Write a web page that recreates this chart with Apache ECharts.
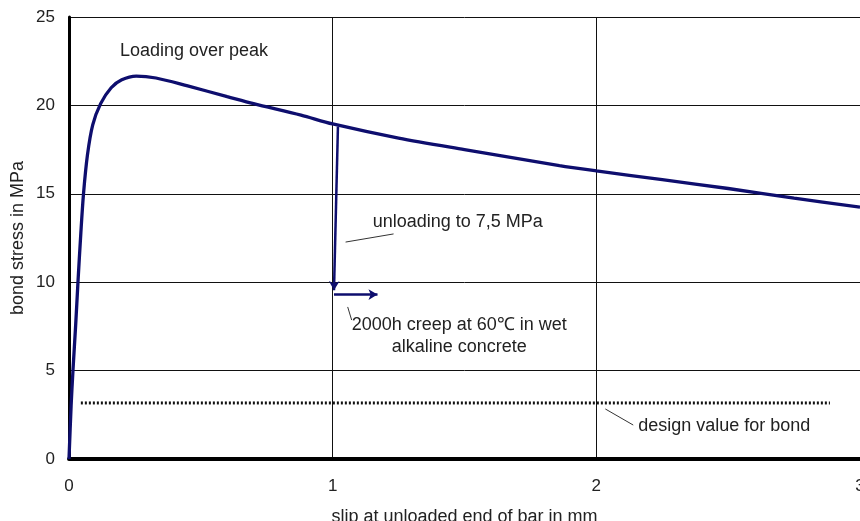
<!DOCTYPE html>
<html>
<head>
<meta charset="utf-8">
<script src="https://cdn.jsdelivr.net/npm/echarts@6/dist/echarts.min.js"></script>
<style>html,body{margin:0;padding:0;background:#fff}#c{width:860px;height:521px}</style>
</head>
<body>
<div id="c"></div>
<script>
// Loading curve (slip in mm, bond stress in MPa)
const slipLoad   = [0, 0.008, 0.015, 0.025, 0.034, 0.045, 0.055, 0.07, 0.09, 0.12, 0.16, 0.2, 0.255, 0.33, 0.45, 0.6, 0.7, 0.88, 1.0, 1.25, 1.5, 1.86, 2.0, 2.25, 2.5, 2.75, 3.0];
const stressLoad = [0, 3, 5, 7.5, 10, 12.8, 15, 17.2, 18.9, 20.1, 21.0, 21.45, 21.66, 21.55, 21.1, 20.5, 20.1, 19.45, 18.95, 18.15, 17.5, 16.6, 16.3, 15.8, 15.3, 14.75, 14.25];
// Unloading branch
const slipUnload   = [1.02, 1.005];
const stressUnload = [18.8, 9.55];
// Creep arrow
const slipCreep   = [1.005, 1.17];
const stressCreep = [9.3, 9.3];
// Design value for bond
const slipDesign   = [0.045, 2.886];
const stressDesign = [3.17, 3.17];
// Axis ticks
const xTicks = [0, 1, 2, 3];
const yTicks = [0, 5, 10, 15, 20, 25];
// Annotations: text, x, y (data coordinates)
const annoText = ['Loading over peak', 'unloading to 7,5 MPa', '2000h creep at 60\u2103 in wet\nalkaline concrete', 'design value for bond'];
const annoX = [0.193, 1.152, 1.48, 2.159];
const annoY = [23.08, 13.4, 6.95, 1.87];
const annoAlign = ['left', 'left', 'center', 'left'];
// Leader lines: [x1, y1, x2, y2]
const leaderUnload = [1.049, 12.27, 1.231, 12.73];
const leaderCreep  = [1.057, 8.6, 1.072, 7.86];
const leaderDesign = [2.034, 2.83, 2.14, 1.92];

const FONT = '"Liberation Sans", Arial, sans-serif';
const NAVY = '#0e0e6e';

const chart = echarts.init(document.getElementById('c'));
const zip = (a, b) => a.map((v, i) => [v, b[i]]);
const seg = (s) => [{coord: [s[0], s[1]]}, {coord: [s[2], s[3]]}];

const option = {
  animation: false,
  grid: {left: 69, right: 0, top: 17, bottom: 62, containLabel: false, outerBoundsMode: 'none'},
  xAxis: {
    type: 'value', min: xTicks[0], max: xTicks[xTicks.length - 1], interval: 1,
    name: 'slip at unloaded end of bar in mm', nameLocation: 'middle', nameGap: 49,
    nameTextStyle: {fontFamily: FONT, fontSize: 18, color: '#222'},
    axisLine: {show: true, onZero: false, lineStyle: {color: '#000', width: 4}},
    axisTick: {show: false},
    axisLabel: {fontFamily: FONT, fontSize: 17, color: '#222', margin: 19},
    splitLine: {show: true, lineStyle: {color: '#111', width: 1}}
  },
  yAxis: {
    type: 'value', min: yTicks[0], max: yTicks[yTicks.length - 1], interval: 5,
    name: 'bond stress in MPa', nameLocation: 'middle', nameGap: 42, nameMoveOverlap: false,
    nameTextStyle: {fontFamily: FONT, fontSize: 18, color: '#222'},
    axisLine: {show: true, onZero: false, lineStyle: {color: '#000', width: 3}},
    axisTick: {show: false},
    axisLabel: {fontFamily: FONT, fontSize: 17, color: '#222', margin: 14},
    splitLine: {show: true, lineStyle: {color: '#111', width: 1}}
  },
  series: [
    {
      type: 'line', data: zip(slipDesign, stressDesign), symbol: 'none', silent: true,
      lineStyle: {color: '#111', width: 3, type: [2, 2]}
    },
    {
      type: 'line', data: zip(slipLoad, stressLoad), symbol: 'none', smooth: 0.3,
      lineStyle: {color: NAVY, width: 3.3}, z: 5
    },
    {
      type: 'line', data: [], symbol: 'none', z: 6,
      markLine: {
        silent: true, symbol: ['none', 'arrow'], symbolSize: [8, 9], label: {show: false},
        lineStyle: {color: NAVY, width: 2.5, type: 'solid'},
        data: [
          [{coord: [slipUnload[0], stressUnload[0]]}, {coord: [slipUnload[1], stressUnload[1]]}],
          [{coord: [slipCreep[0], stressCreep[0]]}, {coord: [slipCreep[1], stressCreep[1]]}]
        ]
      }
    },
    {
      type: 'line', data: [], symbol: 'none', z: 6,
      markLine: {
        silent: true, symbol: ['none', 'none'], label: {show: false},
        lineStyle: {color: '#333', width: 1, type: 'solid'},
        data: [seg(leaderUnload), seg(leaderCreep), seg(leaderDesign)]
      }
    }
  ]
};
chart.setOption(option);

const graphics = annoText.map((t, i) => {
  const p = chart.convertToPixel({gridIndex: 0}, [annoX[i], annoY[i]]);
  return {
    type: 'text', x: p[0], y: p[1], z: 10,
    style: {text: t, fontFamily: FONT, fontSize: 18, fill: '#222', align: annoAlign[i], verticalAlign: 'middle', lineHeight: 22}
  };
});
chart.setOption({graphic: graphics});
</script>
</body>
</html>
